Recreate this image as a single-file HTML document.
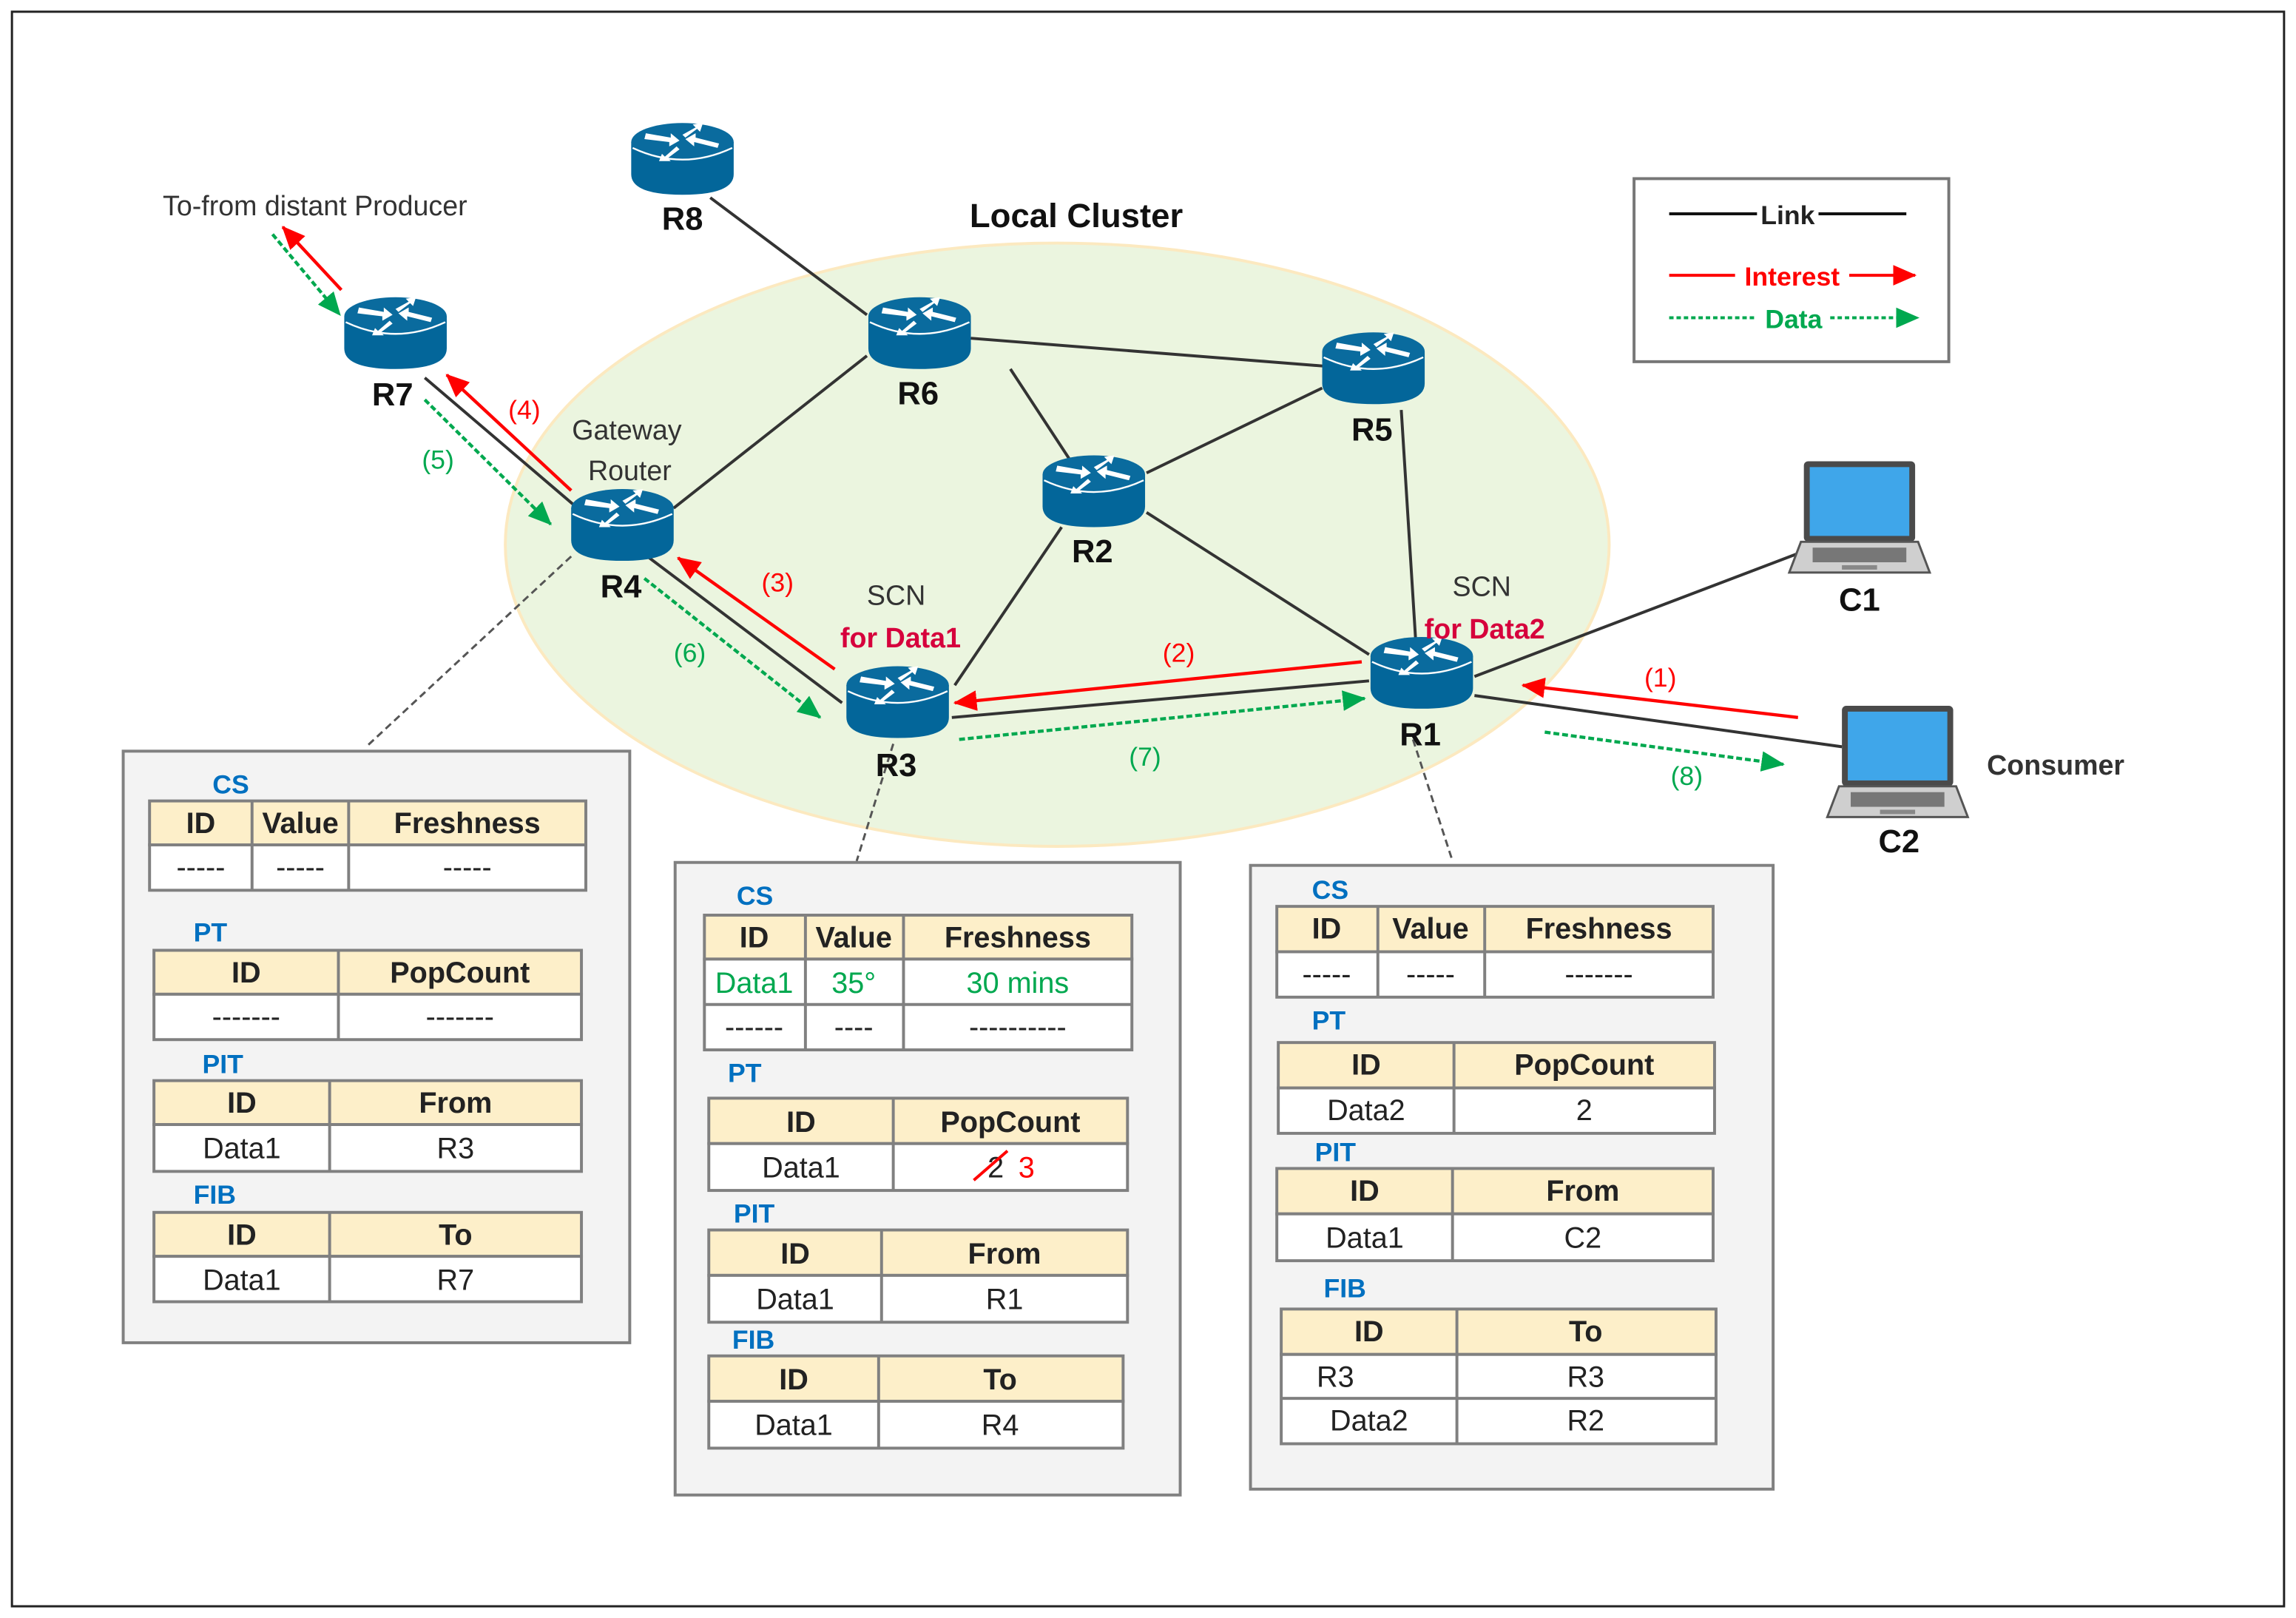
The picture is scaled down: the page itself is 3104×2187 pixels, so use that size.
<!DOCTYPE html>
<html><head><meta charset="utf-8"><style>
html,body{margin:0;padding:0;background:#fff;}
svg{display:block;}
text{font-family:"Liberation Sans",sans-serif;}
</style></head><body>
<svg width="3104" height="2187" viewBox="0 0 1568 1105" xmlns="http://www.w3.org/2000/svg">
<defs>
<g id="rt">
<path d="M-35,-10 L-35,12 Q-35,26 0,26 Q35,26 35,12 L35,-10 Z" fill="#03669A"/>
<ellipse cx="0" cy="-10" rx="35" ry="13" fill="#0A6B9E"/>
<path d="M-34,-6 Q0,10 34,-6" fill="none" stroke="#fff" stroke-width="1.2"/>
<g fill="#fff">
<path d="M-25,-16 L-8,-13 L-8,-16 L-2,-11 L-9,-7 L-9,-10 L-26,-12Z"/>
<path d="M24,-6 L8,-10 L8,-7 L2,-12 L9,-16 L9,-13 L25,-9Z"/>
<path d="M0,-15 L9,-20 L7,-22 L14,-23 L12,-17 L10,-19 L2,-13Z"/>
<path d="M-2,-5 L-10,1 L-8,3 L-16,3 L-14,-2 L-12,0 L-4,-7Z"/>
</g>
</g>
<g id="lap">
<rect x="-38" y="-40" width="76" height="55" rx="3" fill="#4a4a4a"/>
<rect x="-34" y="-36" width="68" height="47" fill="#3FA6EA"/>
<path d="M-40,15 L40,15 L48,36 L-48,36Z" fill="#cfcfcf" stroke="#555" stroke-width="1.5"/>
<rect x="-32" y="19" width="64" height="10" fill="#777"/>
<rect x="-12" y="31" width="24" height="3" fill="#888"/>
</g>
<marker id="ar" markerWidth="10" markerHeight="10" refX="9" refY="5" orient="auto" markerUnits="userSpaceOnUse"><path d="M0,0 L10,5 L0,10Z" fill="#f00"/></marker>
<marker id="ag" markerWidth="10" markerHeight="10" refX="9" refY="5" orient="auto" markerUnits="userSpaceOnUse"><path d="M0,0 L10,5 L0,10Z" fill="#00A84F"/></marker>
<marker id="ar2" markerWidth="16" markerHeight="14" refX="15" refY="7" orient="auto" markerUnits="userSpaceOnUse"><path d="M0,0 L16,7 L0,14Z" fill="#f00"/></marker>
<marker id="ag2" markerWidth="16" markerHeight="14" refX="15" refY="7" orient="auto" markerUnits="userSpaceOnUse"><path d="M0,0 L16,7 L0,14Z" fill="#00A84F"/></marker>
</defs>
<rect x="8" y="8" width="1552" height="1089" fill="#fff" stroke="#222" stroke-width="1.5"/>
<ellipse cx="722" cy="372" rx="377" ry="206" fill="#EBF5DF" stroke="#FCE9C0" stroke-width="2"/>

<!-- links -->
<g stroke="#333" stroke-width="2" fill="none">
<line x1="485" y1="135" x2="592" y2="215"/>
<line x1="663" y1="231" x2="904" y2="250"/>
<line x1="592" y1="243" x2="460" y2="347"/>
<line x1="690" y1="252" x2="730" y2="313"/>
<line x1="783" y1="323" x2="903" y2="265"/>
<line x1="783" y1="350" x2="935" y2="447"/>
<line x1="725" y1="360" x2="652" y2="468"/>
<line x1="957" y1="280" x2="967" y2="440"/>
<line x1="1007" y1="462" x2="1228" y2="378"/>
<line x1="1007" y1="475" x2="1258" y2="510"/>
<line x1="650" y1="490" x2="935" y2="465"/>
<line x1="442" y1="380" x2="575" y2="480"/>
<line x1="290" y1="258" x2="392" y2="345"/>
</g>
<g stroke="#555" stroke-width="1.5" stroke-dasharray="5,3">
<line x1="390" y1="380" x2="250" y2="510"/>
<line x1="610" y1="508" x2="585" y2="588"/>
<line x1="965" y1="505" x2="992" y2="588"/>
</g>

<!-- arrows -->
<g stroke-width="2.2" fill="none">
<line x1="233" y1="198" x2="193" y2="155" stroke="#f00" marker-end="url(#ar2)"/>
<line x1="186" y1="160" x2="232" y2="215" stroke="#00A84F" stroke-dasharray="4,2" marker-end="url(#ag2)"/>
<line x1="390" y1="335" x2="305" y2="256" stroke="#f00" marker-end="url(#ar2)"/>
<line x1="290" y1="273" x2="376" y2="358" stroke="#00A84F" stroke-dasharray="4,2" marker-end="url(#ag2)"/>
<line x1="570" y1="457" x2="463" y2="381" stroke="#f00" marker-end="url(#ar2)"/>
<line x1="440" y1="395" x2="560" y2="490" stroke="#00A84F" stroke-dasharray="4,2" marker-end="url(#ag2)"/>
<line x1="930" y1="452" x2="652" y2="480" stroke="#f00" marker-end="url(#ar2)"/>
<line x1="655" y1="505" x2="932" y2="477" stroke="#00A84F" stroke-dasharray="4,2" marker-end="url(#ag2)"/>
<line x1="1228" y1="490" x2="1040" y2="468" stroke="#f00" marker-end="url(#ar2)"/>
<line x1="1055" y1="500" x2="1218" y2="522" stroke="#00A84F" stroke-dasharray="4,2" marker-end="url(#ag2)"/>
</g>
<g font-size="18" text-anchor="middle">
<text x="358" y="286" fill="#f00">(4)</text>
<text x="299" y="320" fill="#00A84F">(5)</text>
<text x="531" y="404" fill="#f00">(3)</text>
<text x="471" y="452" fill="#00A84F">(6)</text>
<text x="805" y="452" fill="#f00">(2)</text>
<text x="782" y="523" fill="#00A84F">(7)</text>
<text x="1134" y="469" fill="#f00">(1)</text>
<text x="1152" y="536" fill="#00A84F">(8)</text>
</g>

<!-- routers -->
<use href="#rt" x="466" y="107"/>
<use href="#rt" x="628" y="226"/>
<use href="#rt" x="270" y="226"/>
<use href="#rt" x="938" y="250"/>
<use href="#rt" x="747" y="334"/>
<use href="#rt" x="425" y="357"/>
<use href="#rt" x="613" y="478"/>
<use href="#rt" x="971" y="458"/>
<use href="#lap" x="1270" y="355"/>
<use href="#lap" x="1296" y="522"/>

<g font-size="22" font-weight="bold" fill="#111" text-anchor="middle">
<text x="466" y="157">R8</text><text x="627" y="276">R6</text><text x="268" y="277">R7</text>
<text x="937" y="301">R5</text><text x="746" y="384">R2</text><text x="424" y="408">R4</text>
<text x="612" y="530">R3</text><text x="970" y="509">R1</text>
<text x="1270" y="417">C1</text><text x="1297" y="582">C2</text>
</g>
<g font-size="19" fill="#333" text-anchor="middle">
<text x="215" y="147">To-from distant Producer</text>
<text x="735" y="155" font-size="23" font-weight="bold" fill="#111">Local Cluster</text>
<text x="428" y="300">Gateway</text><text x="430" y="328">Router</text>
<text x="612" y="413">SCN</text><text x="615" y="442" fill="#D6003C" font-weight="bold">for Data1</text>
<text x="1012" y="407">SCN</text><text x="1014" y="436" fill="#D6003C" font-weight="bold">for Data2</text>
<text x="1404" y="529" font-weight="bold">Consumer</text>
</g>

<!-- legend -->
<rect x="1116" y="122" width="215" height="125" fill="#fff" stroke="#777" stroke-width="2"/>
<line x1="1140" y1="146" x2="1200" y2="146" stroke="#111" stroke-width="2"/>
<line x1="1242" y1="146" x2="1302" y2="146" stroke="#111" stroke-width="2"/>
<text x="1221" y="153" font-size="18" font-weight="bold" text-anchor="middle" fill="#222">Link</text>
<line x1="1140" y1="188" x2="1185" y2="188" stroke="#f00" stroke-width="2"/>
<line x1="1263" y1="188" x2="1308" y2="188" stroke="#f00" stroke-width="2" marker-end="url(#ar2)"/>
<text x="1224" y="195" font-size="18" font-weight="bold" text-anchor="middle" fill="#f00">Interest</text>
<line x1="1140" y1="217" x2="1200" y2="217" stroke="#00A84F" stroke-width="2" stroke-dasharray="3,2"/>
<line x1="1250" y1="217" x2="1310" y2="217" stroke="#00A84F" stroke-width="2" stroke-dasharray="3,2" marker-end="url(#ag2)"/>
<text x="1225" y="224" font-size="18" font-weight="bold" text-anchor="middle" fill="#00A84F">Data</text>

<!-- boxes -->
<g fill="#F3F3F3" stroke="#808080" stroke-width="2">
<rect x="84" y="513" width="346" height="404"/>
<rect x="461" y="589" width="345" height="432"/>
<rect x="854" y="591" width="357" height="426"/>
</g>

<g font-size="18" font-weight="bold" fill="#0070C0">
<text x="145" y="542">CS</text><text x="132" y="643">PT</text><text x="138" y="733">PIT</text><text x="132" y="822">FIB</text>
<text x="503" y="618">CS</text><text x="497" y="739">PT</text><text x="501" y="835">PIT</text><text x="500" y="921">FIB</text>
<text x="896" y="614">CS</text><text x="896" y="703">PT</text><text x="898" y="793">PIT</text><text x="904" y="886">FIB</text>
</g>

<g stroke="#808080" stroke-width="2">
<!-- header fills -->
<g fill="#FDEFC9">
<rect x="102" y="547" width="298" height="30"/><rect x="105" y="649" width="292" height="30"/>
<rect x="105" y="738" width="292" height="30"/><rect x="105" y="828" width="292" height="30"/>
<rect x="481" y="625" width="292" height="30"/><rect x="484" y="750" width="286" height="31"/>
<rect x="484" y="840" width="286" height="31"/><rect x="484" y="926" width="283" height="31"/>
<rect x="872" y="619" width="298" height="31"/><rect x="873" y="712" width="298" height="31"/>
<rect x="872" y="798" width="298" height="31"/><rect x="875" y="894" width="297" height="31"/>
</g>
<g fill="#fff">
<rect x="102" y="577" width="298" height="31"/><rect x="105" y="679" width="292" height="31"/>
<rect x="105" y="768" width="292" height="32"/><rect x="105" y="858" width="292" height="31"/>
<rect x="481" y="655" width="292" height="62"/><rect x="484" y="781" width="286" height="32"/>
<rect x="484" y="871" width="286" height="32"/><rect x="484" y="957" width="283" height="32"/>
<rect x="872" y="650" width="298" height="31"/><rect x="873" y="743" width="298" height="31"/>
<rect x="872" y="829" width="298" height="32"/><rect x="875" y="925" width="297" height="61"/>
</g>
<line x1="172" y1="547" x2="172" y2="608"/><line x1="238" y1="547" x2="238" y2="608"/>
<line x1="231" y1="649" x2="231" y2="710"/><line x1="225" y1="738" x2="225" y2="800"/><line x1="225" y1="828" x2="225" y2="889"/>
<line x1="550" y1="625" x2="550" y2="717"/><line x1="617" y1="625" x2="617" y2="717"/><line x1="481" y1="686" x2="773" y2="686"/>
<line x1="610" y1="750" x2="610" y2="813"/><line x1="602" y1="840" x2="602" y2="903"/><line x1="600" y1="926" x2="600" y2="989"/>
<line x1="941" y1="619" x2="941" y2="681"/><line x1="1014" y1="619" x2="1014" y2="681"/>
<line x1="993" y1="712" x2="993" y2="774"/><line x1="992" y1="798" x2="992" y2="861"/>
<line x1="995" y1="894" x2="995" y2="986"/><line x1="875" y1="955" x2="1172" y2="955"/>
</g>

<g font-size="20" fill="#222" text-anchor="middle">
<g font-weight="bold">
<text x="137" y="569">ID</text><text x="205" y="569">Value</text><text x="319" y="569">Freshness</text>
<text x="168" y="671">ID</text><text x="314" y="671">PopCount</text>
<text x="165" y="760">ID</text><text x="311" y="760">From</text>
<text x="165" y="850">ID</text><text x="311" y="850">To</text>
<text x="515" y="647">ID</text><text x="583" y="647">Value</text><text x="695" y="647">Freshness</text>
<text x="547" y="773">ID</text><text x="690" y="773">PopCount</text>
<text x="543" y="863">ID</text><text x="686" y="863">From</text>
<text x="542" y="949">ID</text><text x="683" y="949">To</text>
<text x="906" y="641">ID</text><text x="977" y="641">Value</text><text x="1092" y="641">Freshness</text>
<text x="933" y="734">ID</text><text x="1082" y="734">PopCount</text>
<text x="932" y="820">ID</text><text x="1081" y="820">From</text>
<text x="935" y="916">ID</text><text x="1083" y="916">To</text>
</g>
<text x="137" y="599">-----</text><text x="205" y="599">-----</text><text x="319" y="599">-----</text>
<text x="168" y="701">-------</text><text x="314" y="701">-------</text>
<text x="165" y="791">Data1</text><text x="311" y="791">R3</text>
<text x="165" y="881">Data1</text><text x="311" y="881">R7</text>
<text x="515" y="678" fill="#00A84F">Data1</text><text x="583" y="678" fill="#00A84F">35°</text><text x="695" y="678" fill="#00A84F">30 mins</text>
<text x="515" y="708">------</text><text x="583" y="708">----</text><text x="695" y="708">----------</text>
<text x="547" y="804">Data1</text><text x="680" y="804">2</text><text x="701" y="804" fill="#f00">3</text>
<text x="543" y="894">Data1</text><text x="686" y="894">R1</text>
<text x="542" y="980">Data1</text><text x="683" y="980">R4</text>
<text x="906" y="672">-----</text><text x="977" y="672">-----</text><text x="1092" y="672">-------</text>
<text x="933" y="765">Data2</text><text x="1082" y="765">2</text>
<text x="932" y="852">Data1</text><text x="1081" y="852">C2</text>
<text x="912" y="947">R3</text><text x="1083" y="947">R3</text>
<text x="935" y="977">Data2</text><text x="1083" y="977">R2</text>
</g>
<line x1="665" y1="806" x2="688" y2="786" stroke="#f00" stroke-width="2"/>
</svg>
</body></html>
